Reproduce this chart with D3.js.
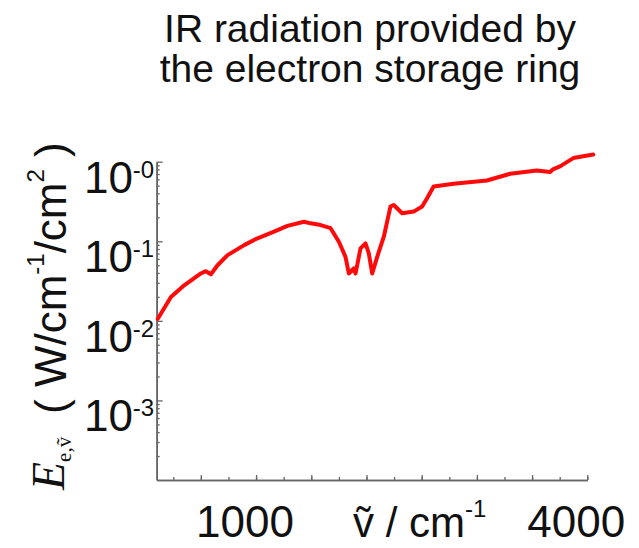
<!DOCTYPE html>
<html>
<head>
<meta charset="utf-8">
<script src="https://cdn.jsdelivr.net/npm/d3@7"></script>
<style>
  html, body { margin: 0; padding: 0; background: #fff; }
  svg { display: block; }
  text { fill: #111; }
</style>
</head>
<body>
<svg id="chart" width="639" height="548"></svg>
<script>
// ---------------- data ----------------
const titleLines = ["IR radiation provided by", "the electron storage ring"];
const wavenumber = [110, 229, 349, 500, 545, 591, 651, 742, 892, 1013, 1163, 1284, 1434, 1494, 1585, 1675,
  1750, 1810, 1840, 1885, 1901, 1946, 1991, 2021, 2052, 2097, 2157, 2217, 2247, 2323, 2428, 2504, 2549,
  2608, 2789, 3091, 3301, 3543, 3663, 3693, 3753, 3873, 4054];
const irradiance = [0.0106, 0.0199, 0.0280, 0.0394, 0.0421, 0.0385, 0.050, 0.067, 0.0895, 0.109, 0.132, 0.156,
  0.176, 0.168, 0.160, 0.146, 0.0986, 0.0637, 0.0394, 0.0455, 0.0394, 0.0813, 0.094, 0.0703, 0.0394, 0.0637,
  0.114, 0.273, 0.286, 0.225, 0.236, 0.273, 0.348, 0.488, 0.527, 0.581, 0.705, 0.776, 0.741, 0.809, 0.873,
  1.11, 1.23];
const xTickValues = [1000, 4000];
const xTickLabels = ["1000", "4000"];
const yTickValues = [1, 0.1, 0.01, 0.001];
const yTickBase = ["10", "10", "10", "10"];
const yTickExp = ["-0", "-1", "-2", "-3"];

// ---------------- layout ----------------
const svg = d3.select("#chart");
const mLeft = 156.7, mRight = 587.3, mTop = 161.7, mBottom = 480;
const x = d3.scaleLinear().domain([100, 4000]).range([mLeft, mRight]);
const y = d3.scaleLog().domain([1e-4, 1]).range([mBottom, mTop]);
const axisColor = "#666";
const sans = "'Liberation Sans', Arial, Helvetica, sans-serif";
const serif = "'Liberation Serif', 'Times New Roman', serif";

// title
svg.append("g").selectAll("text").data(titleLines).join("text")
  .attr("x", 370).attr("y", (d, i) => 42 + i * 40)
  .attr("text-anchor", "middle")
  .style("font-family", sans).style("font-size", "39px")
  .text(d => d);

// x axis (minor + major ticks pointing inward)
const xMinor = d3.range(250, 4001, 250);
const xMajor = d3.range(500, 4001, 500);
function styleAxis(g) {
  g.select(".domain").attr("stroke", axisColor).attr("stroke-width", 1.6);
  g.selectAll(".tick line").attr("stroke", axisColor).attr("stroke-width", 1.3);
  g.selectAll(".tick text").remove();
}
svg.append("g").attr("transform", `translate(0,${mBottom})`)
  .call(d3.axisBottom(x).tickValues(xMinor).tickSizeInner(-3).tickSizeOuter(0).tickFormat(() => ""))
  .call(styleAxis);
svg.append("g").attr("transform", `translate(0,${mBottom})`)
  .call(d3.axisBottom(x).tickValues(xMajor).tickSizeInner(-5).tickSizeOuter(0).tickFormat(() => ""))
  .call(styleAxis);

// y axis
const yMinor = [];
[1e-4, 1e-3, 1e-2, 1e-1].forEach(d => { for (let k = 2; k <= 9; k++) yMinor.push(d * k); });
svg.append("g").attr("transform", `translate(${mLeft},0)`)
  .call(d3.axisLeft(y).tickValues(yMinor).tickSizeInner(-3).tickSizeOuter(0).tickFormat(() => ""))
  .call(styleAxis);
svg.append("g").attr("transform", `translate(${mLeft},0)`)
  .call(d3.axisLeft(y).tickValues(yTickValues).tickSizeInner(-6).tickSizeOuter(0).tickFormat(() => ""))
  .call(styleAxis);

// x tick labels
svg.append("g").selectAll("text").data(xTickValues).join("text")
  .attr("x", d => x(d) - 11).attr("y", 537)
  .attr("text-anchor", "middle")
  .style("font-family", sans).style("font-size", "44px")
  .text((d, i) => xTickLabels[i]);

// y tick labels: 10^-n
const yl = svg.append("g");
yl.selectAll("text.base").data(yTickValues).join("text").attr("class", "base")
  .attr("x", 133).attr("y", d => y(d) + 31)
  .attr("text-anchor", "end")
  .style("font-family", sans).style("font-size", "44px")
  .text((d, i) => yTickBase[i]);
yl.selectAll("text.exp").data(yTickValues).join("text").attr("class", "exp")
  .attr("x", 154).attr("y", d => y(d) + 16)
  .attr("text-anchor", "end")
  .style("font-family", sans).style("font-size", "24px")
  .text((d, i) => yTickExp[i]);

// x axis title
const xt = svg.append("text").attr("x", 353).attr("y", 537)
  .style("font-family", sans).style("font-size", "42px");
xt.append("tspan").text("ṽ / cm");
xt.append("tspan").attr("dy", -20).style("font-size", "24px").text("-1");

// y axis title (rotated)
const yt1 = svg.append("text").attr("transform", "translate(64,490) rotate(-90)")
  .style("font-family", serif).style("font-size", "46px").style("font-style", "italic");
yt1.append("tspan").text("E");
yt1.append("tspan").attr("dy", 7).style("font-size", "21px").style("font-style", "normal").text("e,ṽ");

const yt2 = svg.append("text").attr("transform", "translate(66,414) rotate(-90)")
  .style("font-family", sans).style("font-size", "44px");
yt2.append("tspan").text("( W/cm");
yt2.append("tspan").attr("dy", -22).style("font-size", "24px").text("-1");
yt2.append("tspan").attr("dy", 22).text("/cm");
yt2.append("tspan").attr("dy", -22).style("font-size", "24px").text("2");
yt2.append("tspan").attr("dy", 22).text(" )");

// curve
const pts = wavenumber.map((d, i) => [d, irradiance[i]]);
svg.append("path").datum(pts)
  .attr("fill", "none").attr("stroke", "#ff0a0a").attr("stroke-width", 4)
  .attr("stroke-linejoin", "round").attr("stroke-linecap", "round")
  .attr("d", d3.line().x(d => x(d[0])).y(d => y(d[1])));
</script>
</body>
</html>
